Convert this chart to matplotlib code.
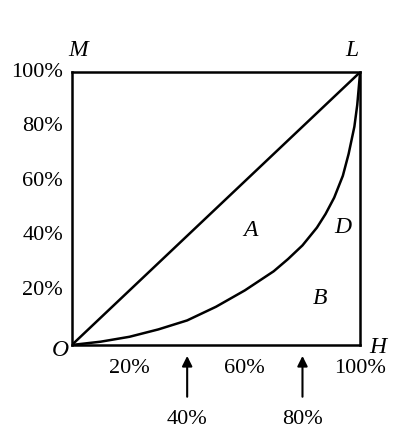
import matplotlib
matplotlib.use("Agg")
import matplotlib.pyplot as plt
import numpy as np

curve_x = [0.0, 0.1, 0.2, 0.3, 0.4, 0.5, 0.6, 0.7, 0.75, 0.8, 0.85, 0.88, 0.91, 0.94, 0.96, 0.98, 0.99, 1.0]
curve_y = [0.0, 0.012, 0.03, 0.057, 0.09, 0.14, 0.2, 0.27, 0.315, 0.365, 0.43, 0.48, 0.54, 0.62, 0.7, 0.8, 0.88, 1.0]
y_ticks = [0.2, 0.4, 0.6, 0.8, 1.0]
y_labels = ["20%", "40%", "60%", "80%", "100%"]
x_ticks = [0.2, 0.6, 1.0]
x_labels = ["20%", "60%", "100%"]
arrow_x = [0.4, 0.8]
arrow_labels = ["40%", "80%"]

plt.rcParams['font.family'] = ['Liberation Serif', 'DejaVu Serif']
fig = plt.figure(figsize=(4.13, 4.48), dpi=100)
ax = fig.add_axes([0.174, 0.23, 0.698, 0.609])
ax.set_xlim(0, 1); ax.set_ylim(0, 1)
for s in ax.spines.values():
    s.set_linewidth(1.8)
ax.plot([0, 1], [0, 1], color='black', lw=1.8)
ax.plot(curve_x, curve_y, color='black', lw=1.8)
ax.set_xticks([]); ax.set_yticks([])
for v, l in zip(y_ticks, y_labels):
    ax.text(-0.03, v, l, ha='right', va='center', fontsize=16, clip_on=False)
for v, l in zip(x_ticks, x_labels):
    ax.text(v, -0.05, l, ha='center', va='top', fontsize=16, clip_on=False)
for v, l in zip(arrow_x, arrow_labels):
    ax.annotate("", xy=(v, -0.03), xytext=(v, -0.2), annotation_clip=False,
                arrowprops=dict(arrowstyle='-|>', color='black', lw=1.5, mutation_scale=15))
    ax.text(v, -0.24, l, ha='center', va='top', fontsize=16, clip_on=False)
for t, x, y in [("M", 0.02, 1.04), ("L", 0.97, 1.04), ("O", -0.04, -0.02), ("H", 1.06, -0.01),
                ("A", 0.62, 0.42), ("D", 0.94, 0.43), ("B", 0.86, 0.17)]:
    ax.text(x, y, t, style='italic', fontsize=17, ha='center', va='bottom' if y > 1 else 'center', clip_on=False)
fig.savefig("out.png", dpi=100)
